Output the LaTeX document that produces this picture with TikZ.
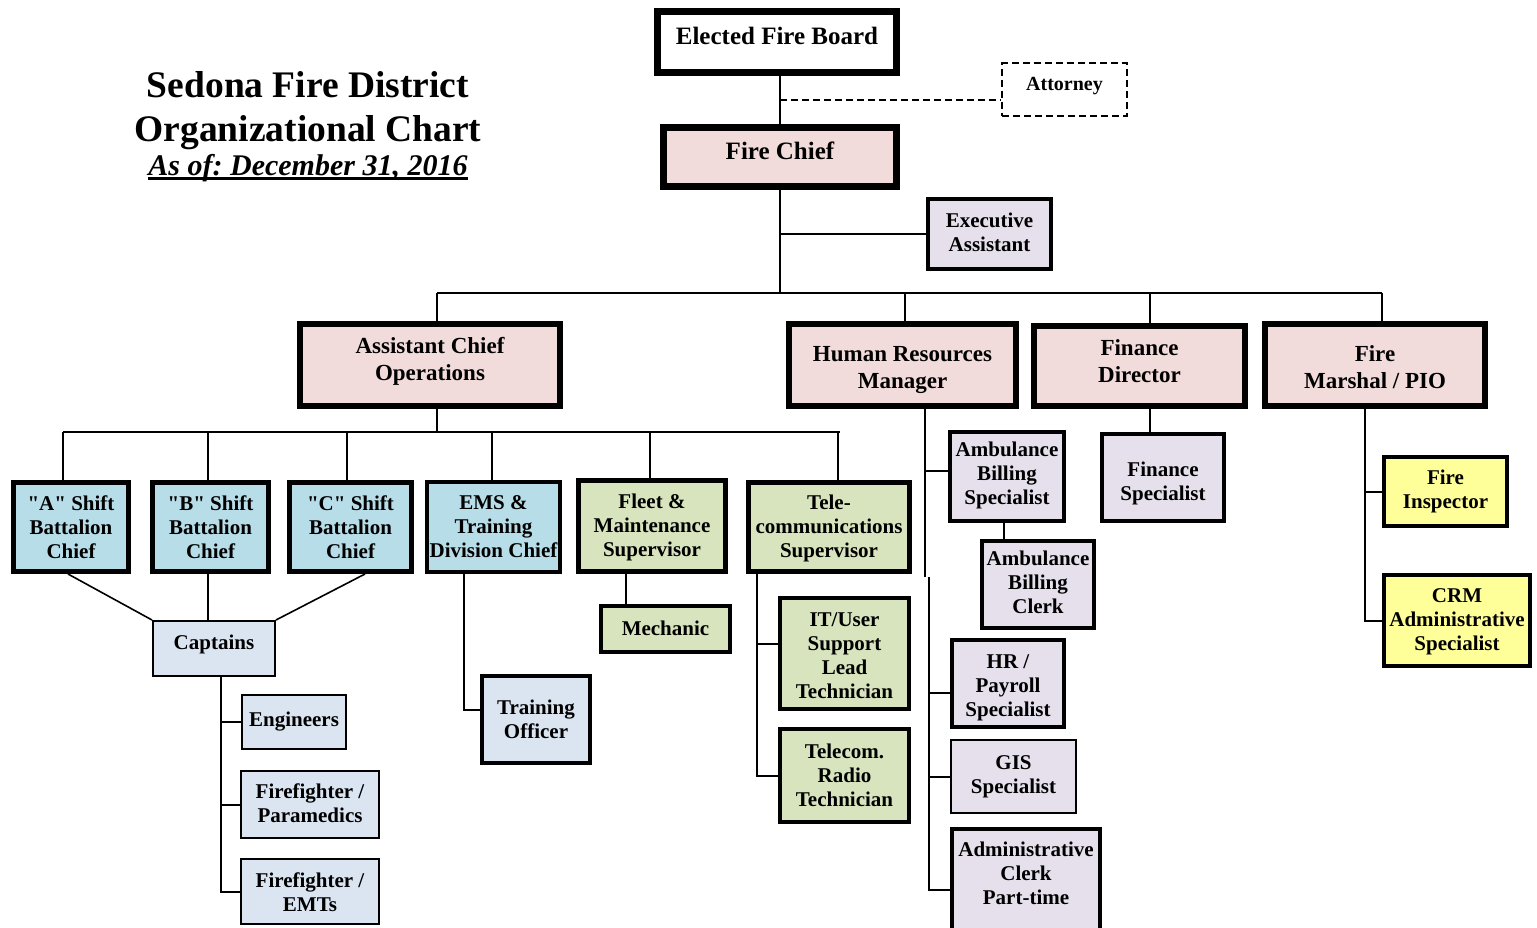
\documentclass[tikz,border=0pt]{standalone}
\usepackage{fontspec}
\setmainfont{Liberation Serif}[Ligatures=TeXOff]
\frenchspacing
\usetikzlibrary{calc}
\definecolor{pinkf}{HTML}{F2DCDB}
\definecolor{lavf}{HTML}{E5E0EC}
\definecolor{bluef}{HTML}{B7DDE8}
\definecolor{greenf}{HTML}{D7E4BD}
\definecolor{grayf}{HTML}{DBE5F1}
\definecolor{yellf}{HTML}{FFFF99}
% box: name, x1, y1, x2, y2, style, text, text shift (px, down positive)
\newcommand\bx[8]{%
  \node[#6, minimum width={(#4-#2)*1pt-\pgflinewidth}, minimum height={(#5-#3)*1pt-\pgflinewidth}] (#1) at ({(#2+#4)/2},{(#3+#5)/2}) {};%
  \node[#6, draw=none, fill=none, minimum width=0pt, minimum height=0pt] (#1-t) at ([yshift={-(#8)*1pt}]#1.center) {#7};}
\tikzset{
  box/.style={draw=black, rectangle, inner sep=0pt, align=center},
  lvA/.style={box, line width=7pt, font=\bfseries\fontsize{25}{28}\selectfont},
  lvB/.style={box, line width=6pt, font=\bfseries\fontsize{23}{27}\selectfont},
  lvC/.style={box, line width=5pt, font=\bfseries\fontsize{21}{24}\selectfont},
  lvD/.style={box, line width=4.2pt, font=\bfseries\fontsize{21}{24}\selectfont},
  thinbox/.style={box, line width=2.2pt, font=\bfseries\fontsize{21}{24}\selectfont},
  attbox/.style={box, line width=2.2pt, dash pattern=on 7pt off 4pt, font=\bfseries\fontsize{20}{23}\selectfont},
  conn/.style={line width=2pt, draw=black},
  conndiag/.style={line width=1.6pt, draw=black},
  titlefont/.style={inner sep=0pt, font=\bfseries\fontsize{37.5}{40}\selectfont}
}
\begin{document}
\begin{tikzpicture}[x=1pt,y=-1pt]
\useasboundingbox (0,0) rectangle (1537,928);
\fill[white] (0,0) rectangle (1537,928);

% title
\node[titlefont] (t1) at (308,85) {Sedona Fire District};
\node[titlefont] (t2) at (308,133) {Organizational Chart};
\node[inner sep=0pt, font=\bfseries\itshape\fontsize{30}{32}\selectfont] (t3) at (308,168) {As of: December 31, 2016};
\draw[line width=2.6pt] ([yshift=-3pt]t3.base west) -- ([yshift=-3pt]t3.base east);

% top levels
\bx{efb}{654}{8}{900}{76}{lvA, fill=white}{Elected Fire Board}{-6}
\bx{att}{1001}{62}{1128}{117}{attbox, fill=white}{Attorney}{-3}
\bx{fc}{660}{124}{900}{190}{lvA, fill=pinkf}{Fire Chief}{-6}
\bx{ea}{926}{197}{1053}{271}{lvD, fill=lavf}{Executive\\Assistant}{-2}
\bx{aco}{297}{321}{563}{409}{lvB, fill=pinkf}{Assistant Chief\\Operations}{-4}
\bx{hr}{786}{321}{1019}{409}{lvB, fill=pinkf}{Human Resources\\Manager}{5}
\bx{fd}{1031}{323}{1248}{409}{lvB, fill=pinkf}{Finance\\Director}{-5}
\bx{fm}{1262}{321}{1488}{409}{lvB, fill=pinkf}{Fire\\Marshal / PIO}{2}

% row 3
\bx{sa}{11}{480}{131}{574}{lvC, fill=bluef}{"A" Shift\\Battalion\\Chief}{0}
\bx{sb}{150}{480}{271}{574}{lvC, fill=bluef}{"B" Shift\\Battalion\\Chief}{0}
\bx{sc}{287}{480}{414}{574}{lvC, fill=bluef}{"C" Shift\\Battalion\\Chief}{0}
\bx{ems}{425}{480}{562}{574}{lvD, fill=bluef}{EMS \&\\Training\\Division Chief}{0}
\bx{fleet}{576}{478}{728}{574}{lvC, fill=greenf}{Fleet \&\\Maintenance\\Supervisor}{1}
\bx{tele}{746}{480}{912}{574}{lvC, fill=greenf}{Tele-\\communications\\Supervisor}{1}

% lower
\bx{cap}{152}{620}{276}{677}{thinbox, fill=grayf}{Captains}{-4}
\bx{eng}{241}{694}{347}{750}{thinbox, fill=grayf}{Engineers}{0}
\bx{ffp}{240}{770}{380}{839}{thinbox, fill=grayf}{Firefighter /\\Paramedics}{-1}
\bx{ffe}{240}{858}{380}{925}{thinbox, fill=grayf}{Firefighter /\\EMTs}{1}
\bx{to}{480}{674}{592}{765}{lvD, fill=grayf}{Training\\Officer}{0}
\bx{mech}{599}{604}{732}{654}{lvD, fill=greenf}{Mechanic}{-1}
\bx{it}{778}{596}{911}{711}{lvD, fill=greenf}{IT/User\\Support\\Lead\\Technician}{2}
\bx{trt}{778}{727}{911}{824}{lvD, fill=greenf}{Telecom.\\Radio\\Technician}{0}
\bx{abs}{948}{430}{1066}{523}{lvD, fill=lavf}{Ambulance\\Billing\\Specialist}{-1}
\bx{abc}{980}{539}{1096}{630}{lvD, fill=lavf}{Ambulance\\Billing\\Clerk}{-2}
\bx{hrp}{950}{638}{1066}{729}{lvD, fill=lavf}{HR /\\Payroll\\Specialist}{4}
\bx{gis}{950}{739}{1077}{814}{thinbox, fill=lavf}{GIS\\Specialist}{0}
\bx{adm}{950}{827}{1102}{932}{lvD, fill=lavf}{Administrative\\Clerk\\Part-time}{-6}
\bx{fs}{1100}{432}{1226}{523}{lvD, fill=lavf}{Finance\\Specialist}{6}
\bx{fi}{1382}{455}{1509}{528}{lvD, fill=yellf}{Fire\\Inspector}{0}
\bx{crm}{1382}{573}{1532}{668}{lvD, fill=yellf}{CRM\\Administrative\\Specialist}{1}

% connectors top
\draw[conn] (fc.north |- efb.south) -- (fc.north);
\coordinate (attj) at (780,100);
\draw[conn, dash pattern=on 7pt off 4pt] (attj) -- (attj -| att.west);
\coordinate (bus) at (780,293);
\draw[conn] (fc.south) -- (bus);
\draw[conn] (fc.south |- ea.west) -- (ea.west);
\coordinate (bL) at (437,293);
\coordinate (bR) at (1382,293);
\coordinate (dHR) at (905,293);
\coordinate (dFD) at (1150,293);
\draw[conn] (bL) -- (bR);
\draw[conn] (bL) -- (bL |- aco.north);
\draw[conn] (dHR) -- (dHR |- hr.north);
\draw[conn] (dFD) -- (dFD |- fd.north);
\draw[conn] (bR) -- (bR |- fm.north);

% operations bus
\coordinate (oJ) at (437,432);
\coordinate (oL) at (63,432);
\coordinate (oR) at (840,432);
\coordinate (oB) at (208,432);
\coordinate (oC) at (347,432);
\coordinate (oE) at (492,432);
\coordinate (oF) at (650,432);
\coordinate (oT) at (838,432);
\draw[conn] (oJ |- aco.south) -- (oJ);
\draw[conn] (oL) -- (oR);
\draw[conn] (oL) -- (oL |- sa.north);
\draw[conn] (oB) -- (oB |- sb.north);
\draw[conn] (oC) -- (oC |- sc.north);
\draw[conn] (oE) -- (oE |- ems.north);
\draw[conn] (oF) -- (oF |- fleet.north);
\draw[conn] (oT) -- (oT |- tele.north);

% captains
\draw[conndiag] ([xshift=-3pt]sa.south) -- (cap.north west);
\draw[conn] ([xshift=-2.5pt]sb.south) -- ([xshift=-2.5pt]sb.south |- cap.north);
\draw[conndiag] ([xshift=14.5pt]sc.south) -- (cap.north east);
\coordinate (capL) at ([xshift=7pt]cap.south);
\draw[conn] (capL) |- (ffe.west);
\draw[conn] (capL |- eng.west) -- (eng.west);
\draw[conn] (capL |- ffp.west) -- (ffp.west);

% EMS
\coordinate (emsL) at ([xshift=-29.5pt]ems.south);
\draw[conn] (emsL) |- ([yshift=10pt]to.west);

% fleet
\coordinate (flL) at ([xshift=-26pt]fleet.south);
\draw[conn] (flL) -- (flL |- mech.north);

% tele
\coordinate (tlL) at ([xshift=-72pt]tele.south);
\draw[conn] (tlL) |- (trt.west);
\draw[conn] (tlL |- it.west) ++(0,-10) -- ([yshift=10pt]it.west);

% HR
\coordinate (hrL) at ([xshift=22.5pt]hr.south);
\coordinate (hrM) at (925,577);
\coordinate (hrN) at (929,577);
\draw[conn] (hrL) -- (hrL |- hrM);
\draw[conn] (hrN) |- ([yshift=-10pt]adm.west);
\draw[conn] (hrL |- abs.west) ++(0,-6) -- ([yshift=6pt]abs.west);
\draw[conn] (hrN |- hrp.west) ++(0,9) -- ([yshift=-9pt]hrp.west);
\draw[conn] (hrN |- gis.west) -- (gis.west);
\coordinate (absL) at ([xshift=-3pt]abs.south);
\draw[conn] (absL) -- (absL |- abc.north);

% finance
\coordinate (fdL) at ([xshift=10.5pt]fd.south);
\draw[conn] (fdL) -- (fdL |- fs.north);

% fire marshal
\coordinate (fmL) at ([xshift=-10pt]fm.south);
\draw[conn] (fmL) |- (crm.west);
\draw[conn] (fmL |- fi.west) -- (fi.west);
\end{tikzpicture}
\end{document}
